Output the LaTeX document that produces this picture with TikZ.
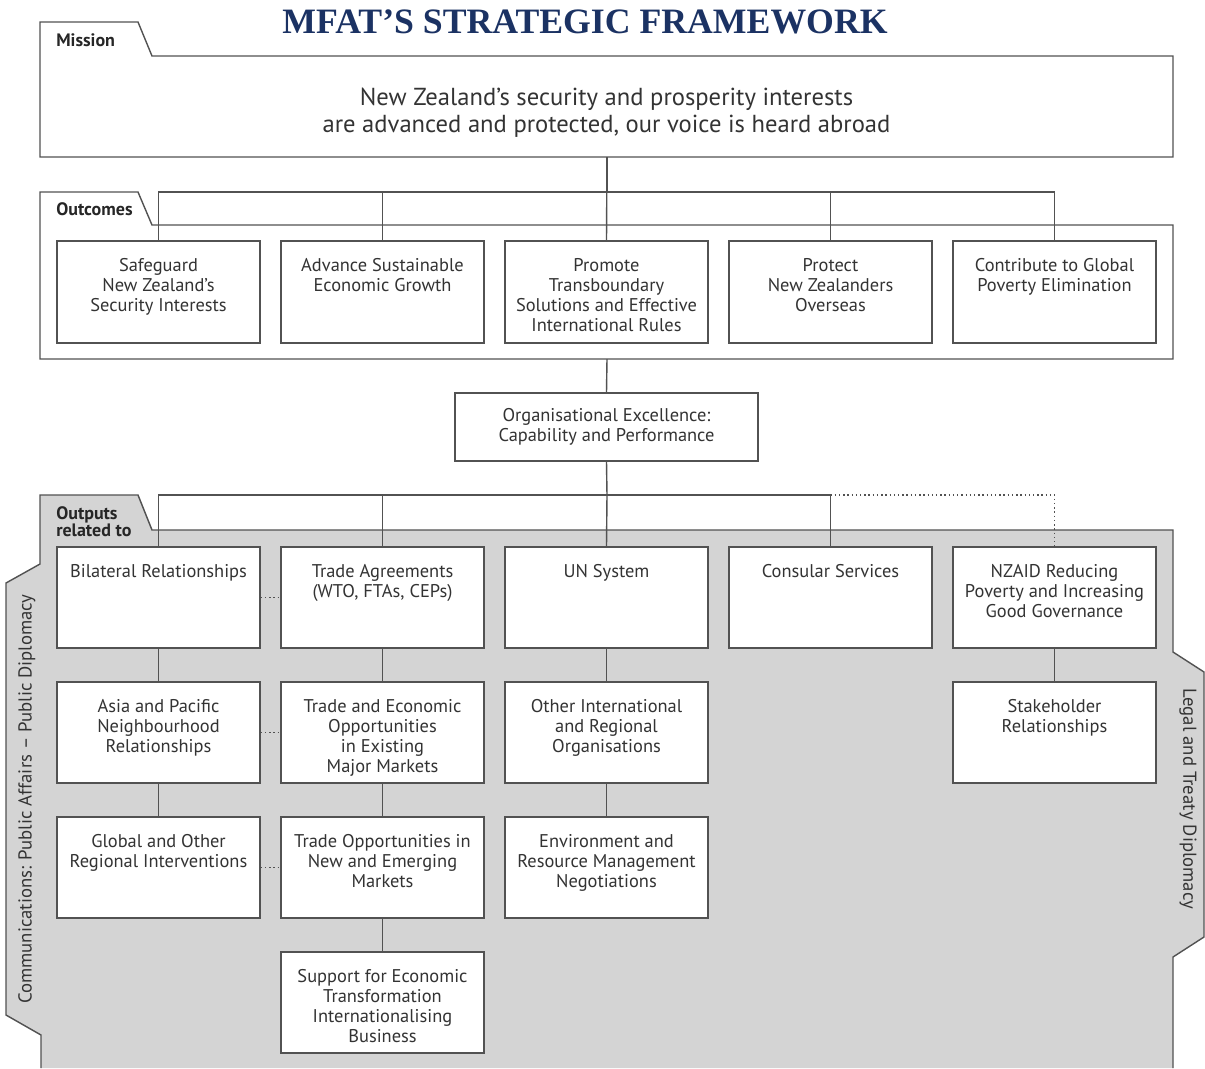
\documentclass[tikz,border=0pt]{standalone}
\usepackage{tikz}
\usepackage{xcolor}
\usepackage{fontspec}
\setmainfont{PT Sans}
\newfontfamily\titlefont{Liberation Serif}
\definecolor{titleblue}{RGB}{27,50,99}
\colorlet{framegray}{black!17}
\colorlet{linegray}{black!68}
\colorlet{textgray}{black!80}

\begin{document}
\begin{tikzpicture}[x=0.025cm,y=-0.025cm]
	\tikzstyle{every node}=[font=\fontsize{13.1}{14.2}\selectfont, text=textgray]
	\tikzstyle{box}=[draw=linegray, line width=1pt, fill=white, minimum width=5.075cm, minimum height=2.525cm, inner sep=0pt]
	\tikzstyle{boxtext}=[anchor=north, align=center, inner sep=0pt, yshift=-0.45cm]
	\tikzstyle{tabtext}=[font=\fontsize{12.8}{12.2}\selectfont\bfseries, anchor=north west, align=left, inner sep=0pt, text=black!85]
	\tikzstyle{link}=[draw=linegray, line width=1pt]
	\tikzstyle{dotlink}=[link, dotted]
	\useasboundingbox (0,0) rectangle (1205,1068);
	% title
	\node (title) [font=\titlefont\bfseries\fontsize{25.4}{30}\selectfont, text=titleblue] at (585,22) {MFAT’S STRATEGIC FRAMEWORK};
	% mission
	\draw [link] (40,157) -- (40,22) -- (138,22) -- (152,56) -- (1173,56) -- (1173,157) -- cycle;
	\node (missionlbl) [tabtext] at (56,33) {Mission};
	\node (mission) [align=center, font=\fontsize{17.5}{19.2}\selectfont] at (606.5,113) {New Zealand’s security and prosperity interests\\are advanced and protected, our voice is heard abroad};
	\coordinate (missionbot) at (607,157);
	% outcomes
	\draw [link] (40,359) -- (40,192) -- (138,192) -- (152,225) -- (1173,225) -- (1173,359) -- cycle;
	\node (outcomeslbl) [tabtext] at (56,202) {Outcomes};
	\coordinate (outcomesbot) at (607,359);
	\node (safe) [box, minimum height=2.55cm, label={[boxtext]north:{Safeguard\\New Zealand’s\\Security Interests}}] at (158.5,292) {};
	\node (growth) [box, minimum height=2.55cm, label={[boxtext]north:{Advance Sustainable\\Economic Growth}}] at (382.5,292) {};
	\node (rules) [box, minimum height=2.55cm, label={[boxtext]north:{Promote\\Transboundary\\Solutions and Effective\\International Rules}}] at (606.5,292) {};
	\node (protect) [box, minimum height=2.55cm, label={[boxtext]north:{Protect\\New Zealanders\\Overseas}}] at (830.5,292) {};
	\node (poverty) [box, minimum height=2.55cm, label={[boxtext]north:{Contribute to Global\\Poverty Elimination}}] at (1054.5,292) {};
	\draw [link] (missionbot) -- ++(0,35) -| (safe.north);
	\draw [link] (missionbot) -- ++(0,35) -| (growth.north);
	\draw [link] (missionbot) -- (rules.north);
	\draw [link] (missionbot) -- ++(0,35) -| (protect.north);
	\draw [link] (missionbot) -- ++(0,35) -| (poverty.north);
	% organisational excellence
	\node (org) [box, minimum width=7.575cm, minimum height=1.7cm, align=center] at (606.5,427) {Organisational Excellence:\\Capability and Performance};
	\draw [link] (outcomesbot) -- (org.north);
	% outputs frame
	\fill [framegray] (40,495) -- (138,495) -- (152,530) -- (1173,530) -- (1173,652) -- (1204,672) -- (1204,937) -- (1173,957) -- (1173,1068) -- (41,1068) -- (41,1035) -- (6,1015) -- (6,583) -- (40,564) -- cycle;
	\draw [link] (41,1068) -- (41,1035) -- (6,1015) -- (6,583) -- (40,564) -- (40,495) -- (138,495) -- (152,530) -- (1173,530) -- (1173,652) -- (1204,672) -- (1204,937) -- (1173,957) -- (1173,1068);
	\node (outputslbl) [tabtext] at (56,506) {Outputs\\related to};
	\node (commlbl) [rotate=90, font=\fontsize{13.3}{14.2}\selectfont] at (27,799) {Communications: Public Affairs – Public Diplomacy};
	\node (legallbl) [rotate=-90, font=\fontsize{13.3}{14.2}\selectfont] at (1188,799) {Legal and Treaty Diplomacy};
	\coordinate (obus) at (607,495);
	% output boxes
	\node (bilat) [box, label={[boxtext]north:{Bilateral Relationships}}] at (158.5,597.5) {};
	\node (asia) [box, label={[boxtext]north:{Asia and Pacific\\Neighbourhood\\Relationships}}] at (158.5,732.5) {};
	\node (global) [box, label={[boxtext]north:{Global and Other\\Regional Interventions}}] at (158.5,867.5) {};
	\node (trade) [box, label={[boxtext]north:{Trade Agreements\\(WTO, FTAs, CEPs)}}] at (382.5,597.5) {};
	\node (tradeex) [box, label={[boxtext]north:{Trade and Economic\\Opportunities\\in Existing\\Major Markets}}] at (382.5,732.5) {};
	\node (tradenew) [box, label={[boxtext]north:{Trade Opportunities in\\New and Emerging\\Markets}}] at (382.5,867.5) {};
	\node (support) [box, label={[boxtext]north:{Support for Economic\\Transformation\\Internationalising\\Business}}] at (382.5,1002.5) {};
	\node (un) [box, label={[boxtext]north:{UN System}}] at (606.5,597.5) {};
	\node (otherorg) [box, label={[boxtext]north:{Other International\\and Regional\\Organisations}}] at (606.5,732.5) {};
	\node (env) [box, label={[boxtext]north:{Environment and\\Resource Management\\Negotiations}}] at (606.5,867.5) {};
	\node (consular) [box, label={[boxtext]north:{Consular Services}}] at (830.5,597.5) {};
	\node (nzaid) [box, label={[boxtext]north:{NZAID Reducing\\Poverty and Increasing\\Good Governance}}] at (1054.5,597.5) {};
	\node (stake) [box, label={[boxtext]north:{Stakeholder\\Relationships}}] at (1054.5,732.5) {};
	% output links
	\draw [link] (org.south) -- (obus);
	\draw [link] (obus) -| (bilat.north);
	\draw [link] (obus) -| (trade.north);
	\draw [link] (obus) -- (un.north);
	\draw [link] (obus) -| (consular.north);
	\draw [dotlink] (consular.north |- obus) -| (nzaid.north);
	\draw [link] (bilat) -- (asia);
	\draw [link] (asia) -- (global);
	\draw [link] (trade) -- (tradeex);
	\draw [link] (tradeex) -- (tradenew);
	\draw [link] (tradenew) -- (support);
	\draw [link] (un) -- (otherorg);
	\draw [link] (otherorg) -- (env);
	\draw [link] (nzaid) -- (stake);
	\draw [dotlink] (bilat.east) -- (trade.west);
	\draw [dotlink] (asia.east) -- (tradeex.west);
	\draw [dotlink] (global.east) -- (tradenew.west);
\end{tikzpicture}
\end{document}
